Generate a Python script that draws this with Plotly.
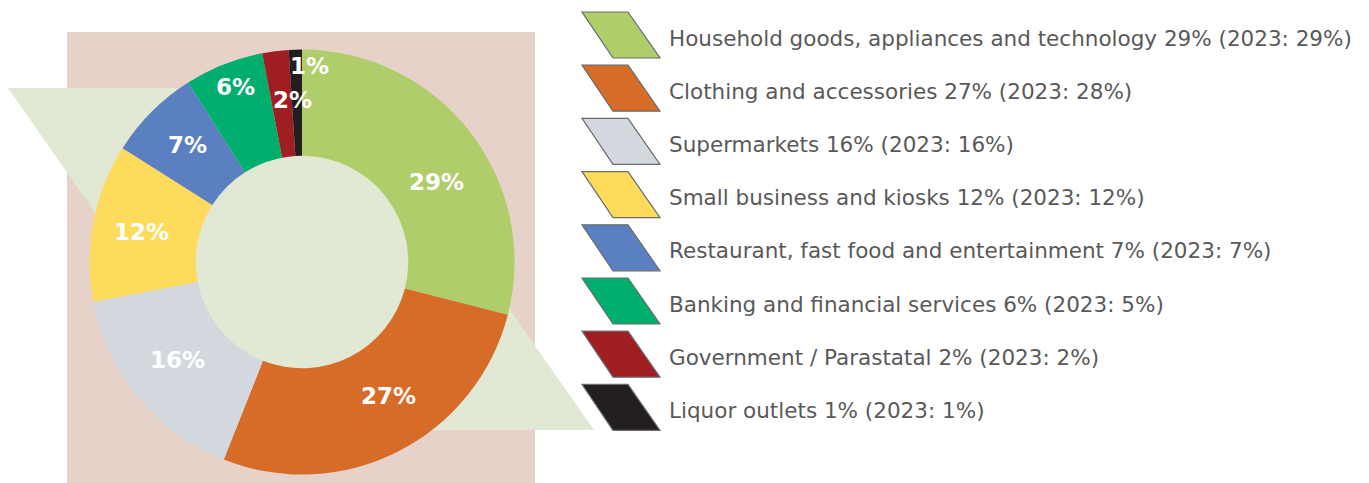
import plotly.graph_objects as go
import math

# ---- data ----
categories = [
    "Household goods, appliances and technology",
    "Clothing and accessories",
    "Supermarkets",
    "Small business and kiosks",
    "Restaurant, fast food and entertainment",
    "Banking and financial services",
    "Government / Parastatal",
    "Liquor outlets",
]
values_2024 = [29, 27, 16, 12, 7, 6, 2, 1]
values_2023 = [29, 28, 16, 12, 7, 5, 2, 1]

# ---- style ----
colors = ["#AFCD6A", "#D76B28", "#D3D8DF", "#FEDB5B", "#5B80C1", "#00AE6E", "#9E1E22", "#231F20"]
W, H = 1369, 483
CX, CY, R = 302, 262, 212.5          # donut centre/radius in px
HOLE = 0.5
label_r = 0.75                       # label radius as fraction of outer radius
label_shift = [(9, -18), (14, 8), (-2, 4), (-4, 0), (-2, 4), (-8, 27), (10, 4), (13, 37)]

def px(x, y):
    return x / W, 1 - y / H

fig = go.Figure()
fig.add_trace(go.Pie(
    values=values_2024,
    labels=categories,
    marker=dict(colors=colors, line=dict(width=0)),
    hole=HOLE,
    sort=False,
    direction="clockwise",
    rotation=0,
    textinfo="none",
    hoverinfo="label+value",
    showlegend=False,
    domain=dict(x=[(CX - R) / W, (CX + R) / W], y=[1 - (CY + R) / H, 1 - (CY - R) / H]),
))

shapes = []
# pink background rectangle
x0, y0 = px(67, 483)
x1, y1 = px(535, 32)
shapes.append(dict(type="rect", xref="paper", yref="paper", x0=x0, y0=y0, x1=x1, y1=y1,
                   fillcolor="#E6D2C8", line=dict(width=0), layer="below"))
# light green parallelogram
pts = [px(8, 88), px(355, 88), px(594, 430), px(247, 430)]
path = "M " + " L ".join(f"{a:.5f},{b:.5f}" for a, b in pts) + " Z"
shapes.append(dict(type="path", xref="paper", yref="paper", path=path,
                   fillcolor="#E1E8D3", line=dict(width=0), layer="below"))
# inner circle fill
ri = R * HOLE + 1.5
cx0, cy0 = px(CX - ri, CY + ri)
cx1, cy1 = px(CX + ri, CY - ri)
shapes.append(dict(type="circle", xref="paper", yref="paper", x0=cx0, y0=cy0, x1=cx1, y1=cy1,
                   fillcolor="#E1E8D3", line=dict(width=0), layer="below"))

annotations = []
# slice labels, placed at mid-angle of each slice
total = sum(values_2024)
cum = 0
for i, v in enumerate(values_2024):
    mid = (cum + v / 2) / total * 2 * math.pi
    cum += v
    lx = CX + label_r * R * math.sin(mid)
    ly = CY - label_r * R * math.cos(mid)
    ax, ay = px(lx, ly)
    dx, dy = label_shift[i]
    annotations.append(dict(x=ax, y=ay, xref="paper", yref="paper", text=f"<b>{v}%</b>",
                            xanchor="center", yanchor="middle",
                            showarrow=False, xshift=dx, yshift=dy,
                            font=dict(family="DejaVu Sans", size=23, color="white")))

# custom legend with parallelogram swatches
row0, step, sh = 12, 53.2, 46
for i, (cat, v, v0) in enumerate(zip(categories, values_2024, values_2023)):
    top = row0 + i * step
    bot = top + sh
    p = [px(582, top), px(628, top), px(660, bot), px(613, bot)]
    path = "M " + " L ".join(f"{a:.5f},{b:.5f}" for a, b in p) + " Z"
    shapes.append(dict(type="path", xref="paper", yref="paper", path=path,
                       fillcolor=colors[i], line=dict(width=1.2, color="#6b6b6b")))
    tx, ty = px(667, top + sh / 2 + 3)
    annotations.append(dict(x=tx, y=ty, xref="paper", yref="paper", xanchor="left", yanchor="middle",
                            text=f"{cat} {v}% (2023: {v0}%)", showarrow=False,
                            font=dict(family="DejaVu Sans", size=21.5, color="#595959")))

fig.update_layout(
    width=W, height=H,
    margin=dict(l=0, r=0, t=0, b=0),
    paper_bgcolor="white", plot_bgcolor="white",
    shapes=shapes, annotations=annotations,
)
fig.write_html("out.html", config={"displayModeBar": False},
               post_script="document.body.style.margin='0';document.body.style.overflow='hidden';")
